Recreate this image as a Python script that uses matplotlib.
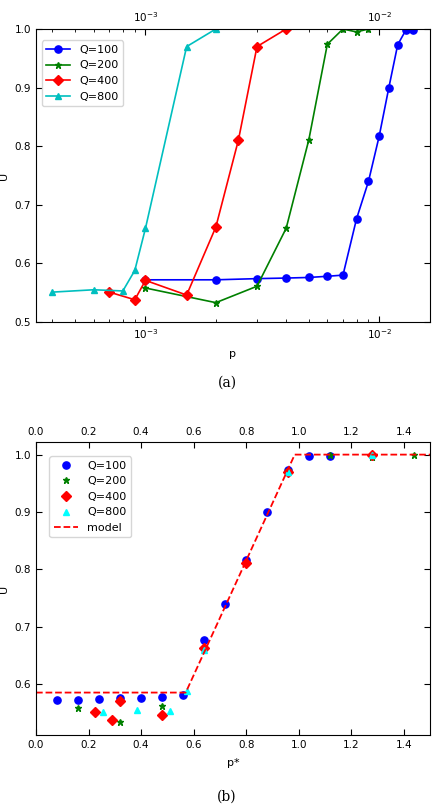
import numpy as np
import matplotlib
matplotlib.use("Agg")
import matplotlib.pyplot as plt

# ================= DATA =================
# p values (top panel) and U values per Q
p_q100 = [1e-3, 2e-3, 3e-3, 4e-3, 5e-3, 6e-3, 7e-3, 8e-3, 9e-3, 1.0e-2, 1.1e-2, 1.2e-2, 1.3e-2, 1.4e-2]
u_q100 = [0.572, 0.572, 0.574, 0.575, 0.576, 0.578, 0.580, 0.676, 0.740, 0.817, 0.900, 0.973, 0.998, 0.998]

p_q200 = [1e-3, 2e-3, 3e-3, 4e-3, 5e-3, 6e-3, 7e-3, 8e-3, 9e-3]
u_q200 = [0.558, 0.533, 0.561, 0.660, 0.811, 0.974, 1.000, 0.995, 1.000]

p_q400 = [7e-4, 9e-4, 1e-3, 1.5e-3, 2e-3, 2.5e-3, 3e-3, 4e-3]
u_q400 = [0.551, 0.538, 0.571, 0.546, 0.662, 0.811, 0.970, 1.000]

p_q800 = [4e-4, 6e-4, 8e-4, 9e-4, 1e-3, 1.5e-3, 2e-3]
u_q800 = [0.551, 0.555, 0.553, 0.588, 0.660, 0.970, 1.000]

# p* scaling: p* = p * 80 * Q/100
Q_values = [100, 200, 400, 800]
P_SCALE = 80.0

# model curve (bottom panel)
model_x = [0.0, 0.57, 0.985, 1.5]
model_u = [0.585, 0.585, 1.0, 1.0]

# ================= PLOT =================
FS = 7.5
plt.rcParams['font.family'] = ['DejaVu Sans']

fig = plt.figure(figsize=(4.39, 8.08), dpi=100)
W, H = 439.0, 808.0
ax1 = fig.add_axes([36 / W, 1 - 322 / H, 394 / W, 293 / H])
ax2 = fig.add_axes([36 / W, 1 - 735 / H, 394 / W, 293 / H])

series = [
    (p_q100, u_q100, 'b', 'o', 5.2, 'Q=100'),
    (p_q200, u_q200, 'g', '*', 5.0, 'Q=200'),
    (p_q400, u_q400, 'r', 'D', 5.2, 'Q=400'),
    (p_q800, u_q800, 'c', '^', 5.0, 'Q=800'),
]

# ---- (a) ----
for p, u, col, mk, ms, lab in series:
    ax1.plot(p, u, color=col, marker=mk, markersize=ms, markeredgecolor=col,
             linewidth=1.2, label=lab)
ax1.set_xscale('log')
ax1.set_xlim(3.4e-4, 1.65e-2)
ax1.set_ylim(0.5, 1.0)
ax1.set_yticks([0.5, 0.6, 0.7, 0.8, 0.9, 1.0])
ax1.set_xlabel('p', fontsize=FS + 0.5)
ax1.set_ylabel('U', fontsize=FS + 0.5)
ax1.legend(loc='upper left', fontsize=FS + 0.5, numpoints=1,
           bbox_to_anchor=(0.0, 0.98), handlelength=2.2, fancybox=True)

# ---- (b) ----
bcolors = ['blue', 'green', 'red', 'cyan']
for (p, u, col, mk, ms, lab), q, bc in zip(series, Q_values, bcolors):
    ps = np.array(p) * P_SCALE * q / 100.0
    ax2.plot(ps, u, linestyle='none', color=bc, marker=mk, markersize=ms,
             markeredgecolor=bc, label=lab)
ax2.plot(model_x, model_u, color='red', linestyle='--', linewidth=1.3, label='model')
ax2.set_xlim(0.0, 1.5)
ax2.set_ylim(0.511, 1.022)
ax2.set_xticks(np.arange(0, 1.41, 0.2))
ax2.set_yticks([0.6, 0.7, 0.8, 0.9, 1.0])
ax2.set_xlabel('p*', fontsize=FS + 0.5)
ax2.set_ylabel('U', fontsize=FS + 0.5)
ax2.legend(loc='upper left', fontsize=FS + 0.5, numpoints=1,
           bbox_to_anchor=(0.02, 0.97), handlelength=2.2, fancybox=True)

for ax in (ax1, ax2):
    ax.tick_params(which='both', direction='in', top=True, right=True,
                   labeltop=True, labelsize=FS)
    ax.tick_params(which='major', length=4)
    ax.tick_params(which='minor', length=2)
    ax.xaxis.labelpad = 6

fig.text(227 / W, 1 - 383 / H, '(a)', ha='center', va='center',
         family='DejaVu Serif', fontsize=10)
fig.text(227 / W, 1 - 797 / H, '(b)', ha='center', va='center',
         family='DejaVu Serif', fontsize=10)

fig.savefig('out.png', dpi=100)
